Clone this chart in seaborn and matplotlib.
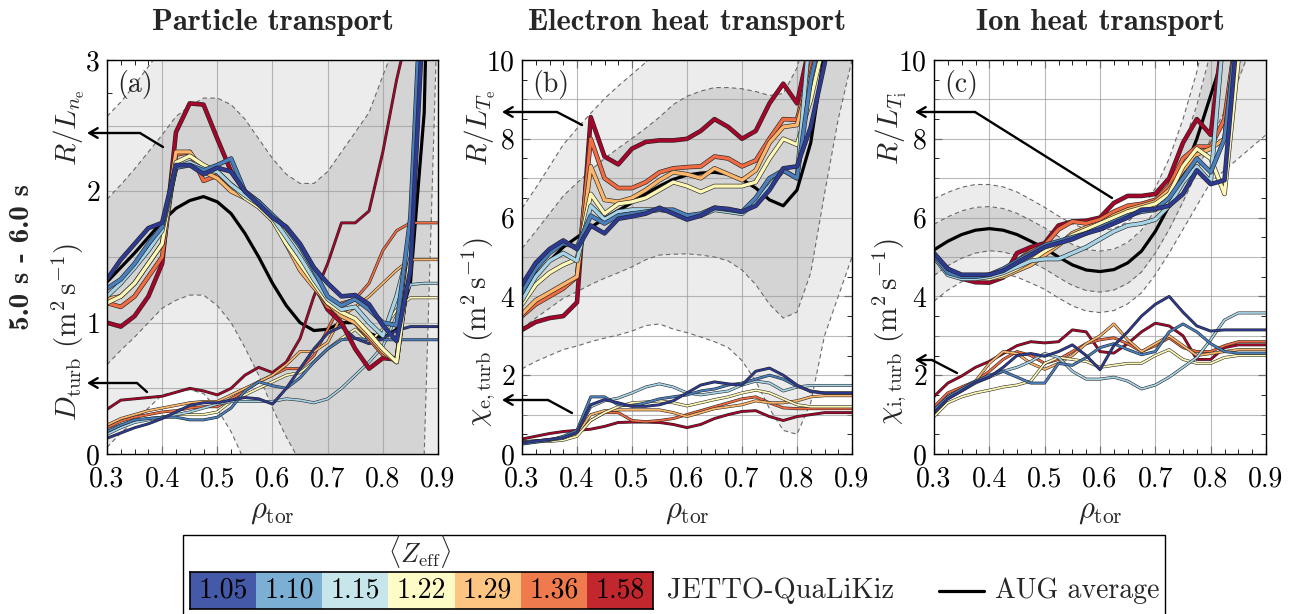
import numpy as np
import matplotlib
matplotlib.use("Agg")
import matplotlib.pyplot as plt
import matplotlib.patheffects as pe
from matplotlib.colors import ListedColormap
from matplotlib.lines import Line2D
from matplotlib.patches import Rectangle, FancyArrowPatch
import seaborn as sns

W, H = 1293, 614

# --- data ---
rho = [0.300, 0.325, 0.350, 0.375, 0.400, 0.425, 0.450, 0.475, 0.500, 0.525, 0.550, 0.575,
       0.600, 0.625, 0.650, 0.675, 0.700, 0.725, 0.750, 0.775, 0.800, 0.825, 0.850, 0.875, 0.900]

zeff_labels = ["1.05", "1.10", "1.15", "1.22", "1.29", "1.36", "1.58"]
line_colors = ["#2d3a92", "#4a7fbd", "#a6d3e6", "#fdf7b6", "#fcb569", "#f06a42", "#a3062a"]
legend_colors = ["#4459a7", "#7bafd4", "#c6e6ec", "#fefcc6", "#fdc581", "#ee7a4d", "#c1272d"]

# panel (a): R/L_ne (thick) and D_turb (thin), one row per <Zeff>
a_grad = [
    [1.33, 1.48, 1.60, 1.72, 1.76, 2.20, 2.20, 2.13, 2.18, 2.15, 2.00, 1.90, 1.80, 1.73, 1.60, 1.42, 1.30, 1.20, 1.21, 1.14, 0.98, 0.86, 1.40, 3.50, 5.00],
    [1.26, 1.33, 1.45, 1.60, 1.73, 2.18, 2.20, 2.16, 2.20, 2.25, 2.00, 1.92, 1.82, 1.72, 1.58, 1.40, 1.20, 1.13, 1.18, 1.10, 1.00, 0.98, 1.80, 4.00, 5.00],
    [1.20, 1.30, 1.42, 1.55, 1.70, 2.18, 2.22, 2.17, 2.15, 2.05, 1.97, 1.90, 1.80, 1.65, 1.50, 1.33, 1.18, 1.10, 1.12, 1.00, 0.90, 1.20, 1.60, 4.00, 5.00],
    [1.15, 1.20, 1.30, 1.45, 1.60, 2.22, 2.27, 2.20, 2.15, 2.05, 1.95, 1.88, 1.78, 1.60, 1.45, 1.30, 1.15, 1.08, 1.03, 0.92, 0.80, 0.70, 1.50, 4.00, 5.00],
    [1.18, 1.20, 1.30, 1.45, 1.60, 2.30, 2.30, 2.15, 2.10, 2.00, 1.95, 1.92, 1.80, 1.60, 1.40, 1.27, 1.15, 1.05, 1.00, 0.90, 0.78, 0.70, 1.50, 4.00, 5.00],
    [1.15, 1.12, 1.20, 1.35, 1.50, 2.28, 2.30, 2.08, 2.12, 2.05, 1.97, 1.90, 1.78, 1.62, 1.45, 1.28, 1.12, 1.08, 1.00, 0.88, 0.76, 0.72, 1.50, 4.00, 5.00],
    [1.00, 0.97, 1.05, 1.20, 1.45, 2.45, 2.67, 2.66, 2.40, 2.15, 2.00, 1.92, 1.80, 1.60, 1.45, 1.30, 1.10, 1.00, 0.80, 0.65, 0.73, 0.72, 1.50, 4.00, 5.00],
]
a_turb = [
    [0.12, 0.16, 0.20, 0.23, 0.27, 0.32, 0.37, 0.39, 0.39, 0.41, 0.43, 0.42, 0.38, 0.50, 0.65, 0.80, 0.92, 0.97, 0.88, 0.84, 0.88, 0.94, 0.97, 0.97, 0.97],
    [0.17, 0.22, 0.26, 0.27, 0.28, 0.28, 0.26, 0.26, 0.28, 0.35, 0.48, 0.55, 0.52, 0.50, 0.58, 0.70, 0.80, 0.87, 0.88, 0.87, 0.87, 0.87, 0.87, 0.87, 0.87],
    [0.15, 0.20, 0.24, 0.26, 0.28, 0.30, 0.32, 0.35, 0.38, 0.40, 0.40, 0.40, 0.40, 0.42, 0.41, 0.39, 0.42, 0.50, 0.60, 0.70, 0.82, 1.05, 1.29, 1.30, 1.30],
    [0.18, 0.22, 0.25, 0.27, 0.28, 0.30, 0.30, 0.30, 0.32, 0.40, 0.45, 0.50, 0.55, 0.60, 0.62, 0.70, 0.80, 0.88, 0.95, 0.85, 0.95, 1.10, 1.19, 1.19, 1.19],
    [0.22, 0.27, 0.30, 0.33, 0.35, 0.37, 0.39, 0.40, 0.40, 0.45, 0.50, 0.55, 0.60, 0.68, 0.78, 0.78, 0.85, 1.05, 1.12, 1.20, 1.30, 1.40, 1.48, 1.48, 1.48],
    [0.20, 0.25, 0.28, 0.30, 0.32, 0.33, 0.35, 0.36, 0.36, 0.42, 0.48, 0.55, 0.60, 0.65, 0.65, 0.75, 0.95, 1.15, 1.18, 1.30, 1.55, 1.70, 1.76, 1.76, 1.76],
    [0.34, 0.41, 0.42, 0.43, 0.44, 0.47, 0.50, 0.48, 0.45, 0.50, 0.60, 0.66, 0.62, 0.70, 0.88, 1.20, 1.45, 1.76, 1.76, 1.85, 2.30, 2.85, 3.30, 4.00, 5.00],
]
a_avg = [1.31, 1.42, 1.53, 1.65, 1.77, 1.87, 1.93, 1.96, 1.92, 1.83, 1.68, 1.50, 1.30, 1.13, 1.00, 0.94, 0.95, 1.00, 1.00, 0.92, 0.88, 0.95, 1.30, 2.60, 7.00]
a_sig = [0.63, 0.63, 0.64, 0.65, 0.66, 0.70, 0.72, 0.75, 0.79, 0.83, 0.87, 0.90, 0.95, 1.00, 1.06, 1.12, 1.20, 1.30, 1.45, 1.68, 2.00, 2.20, 2.30, 2.60, 3.50]

# panel (b): R/L_Te and chi_e,turb
b_grad = [
    [4.30, 4.85, 5.20, 5.42, 5.20, 5.80, 5.60, 5.97, 6.03, 6.10, 6.25, 6.10, 5.95, 6.05, 6.25, 6.22, 6.15, 6.30, 6.70, 7.25, 7.30, 8.30, 9.90, 12.0, 15.0],
    [4.10, 4.70, 5.10, 5.35, 5.25, 6.05, 5.85, 6.05, 6.10, 6.15, 6.20, 6.20, 6.05, 6.10, 6.25, 6.20, 6.15, 6.50, 7.00, 7.20, 7.00, 9.50, 11.0, 13.0, 15.0],
    [3.90, 4.50, 4.90, 5.10, 4.90, 6.30, 5.95, 6.15, 6.20, 6.20, 6.20, 6.15, 6.05, 6.05, 6.20, 6.15, 6.10, 6.40, 6.80, 7.20, 7.00, 11.0, 12.0, 14.0, 15.0],
    [3.80, 4.30, 4.60, 4.80, 4.95, 6.60, 6.10, 6.35, 6.40, 6.50, 6.70, 6.90, 6.80, 6.65, 6.80, 6.80, 6.80, 6.90, 7.50, 8.00, 7.85, 9.00, 10.5, 12.0, 15.0],
    [3.55, 3.90, 4.10, 4.30, 4.50, 7.30, 6.45, 6.40, 6.50, 6.70, 6.95, 7.15, 7.10, 7.00, 7.25, 7.10, 6.95, 7.20, 7.90, 8.30, 8.35, 9.60, 11.0, 13.0, 15.0],
    [3.50, 3.80, 4.00, 4.20, 4.50, 8.00, 7.00, 6.75, 6.75, 6.90, 7.15, 7.25, 7.28, 7.30, 7.55, 7.50, 7.30, 7.45, 8.00, 8.50, 8.48, 9.80, 11.5, 13.0, 15.0],
    [3.15, 3.35, 3.45, 3.50, 3.85, 8.55, 7.55, 7.35, 7.75, 7.92, 7.96, 7.96, 8.00, 8.20, 8.50, 8.30, 8.00, 8.20, 8.90, 9.40, 8.90, 10.5, 12.0, 14.0, 15.0],
]
b_turb = [
    [0.28, 0.33, 0.37, 0.41, 0.55, 1.25, 1.38, 1.30, 1.21, 1.21, 1.25, 1.35, 1.55, 1.75, 1.83, 1.78, 1.75, 2.10, 2.18, 2.00, 1.75, 1.58, 1.55, 1.55, 1.55],
    [0.25, 0.30, 0.35, 0.45, 0.60, 1.45, 1.45, 1.25, 1.22, 1.30, 1.40, 1.45, 1.50, 1.60, 1.65, 1.75, 1.80, 1.90, 2.00, 1.90, 1.72, 1.60, 1.55, 1.55, 1.55],
    [0.30, 0.33, 0.35, 0.40, 0.55, 1.20, 1.35, 1.42, 1.55, 1.70, 1.78, 1.70, 1.55, 1.50, 1.55, 1.60, 1.75, 1.85, 1.80, 1.60, 1.70, 1.74, 1.74, 1.74, 1.74],
    [0.30, 0.31, 0.32, 0.35, 0.45, 0.85, 1.05, 1.20, 1.30, 1.32, 1.35, 1.30, 1.22, 1.30, 1.38, 1.45, 1.55, 1.62, 1.55, 1.40, 1.25, 1.20, 1.20, 1.20, 1.20],
    [0.32, 0.33, 0.36, 0.40, 0.50, 1.00, 1.10, 1.12, 1.12, 1.12, 1.12, 1.05, 0.95, 1.05, 1.15, 1.20, 1.25, 1.35, 1.30, 1.30, 1.35, 1.45, 1.48, 1.48, 1.48],
    [0.30, 0.33, 0.37, 0.42, 0.55, 0.85, 1.05, 1.05, 0.85, 0.82, 0.85, 0.90, 1.00, 1.10, 1.20, 1.30, 1.40, 1.45, 1.30, 1.17, 1.15, 1.15, 1.15, 1.15, 1.15],
    [0.38, 0.45, 0.52, 0.57, 0.60, 0.63, 0.70, 0.80, 0.81, 0.81, 0.80, 0.75, 0.67, 0.75, 0.90, 1.00, 1.08, 1.10, 0.95, 0.85, 0.95, 1.00, 1.05, 1.05, 1.05],
]
b_avg = [4.20, 4.55, 4.90, 5.25, 5.50, 5.75, 5.98, 6.18, 6.38, 6.60, 6.80, 6.97, 7.08, 7.13, 7.15, 7.10, 6.97, 6.75, 6.45, 6.30, 6.70, 7.90, 10.2, 13.0, 15.0]
b_sig = [1.02, 1.10, 1.20, 1.30, 1.38, 1.45, 1.52, 1.58, 1.63, 1.67, 1.75, 1.90, 2.00, 2.08, 2.15, 2.20, 2.30, 2.45, 2.65, 2.85, 3.10, 3.30, 3.60, 4.50, 5.00]

# panel (c): R/L_Ti and chi_i,turb
c_grad = [
    [5.10, 4.70, 4.55, 4.55, 4.55, 4.65, 4.85, 5.05, 5.25, 5.35, 5.45, 5.60, 5.70, 5.85, 6.00, 6.20, 6.22, 6.30, 6.60, 7.20, 6.85, 6.95, 11.0, 14.0, 15.0],
    [5.05, 4.60, 4.50, 4.50, 4.55, 4.70, 4.90, 5.10, 5.30, 5.40, 5.50, 5.60, 5.75, 5.90, 6.05, 6.15, 6.20, 6.50, 7.00, 7.50, 7.15, 8.00, 11.0, 14.0, 15.0],
    [5.00, 4.55, 4.45, 4.45, 4.50, 4.60, 4.75, 4.90, 4.95, 4.95, 5.10, 5.25, 5.45, 5.65, 5.80, 5.85, 5.95, 6.30, 6.90, 7.30, 6.90, 11.0, 13.0, 15.0, 15.0],
    [5.00, 4.60, 4.50, 4.45, 4.45, 4.55, 4.70, 4.90, 5.15, 5.35, 5.55, 5.70, 5.85, 6.00, 6.15, 6.25, 6.35, 6.60, 7.30, 7.75, 7.50, 6.60, 10.0, 13.0, 15.0],
    [5.00, 4.60, 4.50, 4.45, 4.45, 4.50, 4.65, 4.80, 5.05, 5.30, 5.60, 5.75, 5.85, 6.05, 6.20, 6.30, 6.40, 6.70, 7.20, 7.60, 7.75, 8.00, 11.0, 14.0, 15.0],
    [5.05, 4.60, 4.50, 4.45, 4.45, 4.60, 4.90, 5.15, 5.30, 5.70, 5.90, 5.85, 5.95, 6.15, 6.30, 6.35, 6.45, 6.80, 7.50, 7.80, 7.80, 8.50, 11.0, 14.0, 15.0],
    [5.05, 4.70, 4.45, 4.36, 4.35, 4.48, 5.10, 5.25, 5.35, 5.80, 5.90, 5.92, 6.00, 6.37, 6.55, 6.55, 6.60, 7.00, 7.90, 8.50, 8.10, 11.0, 13.0, 14.0, 15.0],
]
c_turb = [
    [1.04, 1.40, 1.60, 1.82, 1.95, 2.20, 2.50, 2.55, 2.48, 2.60, 2.77, 2.50, 2.14, 2.75, 3.10, 3.50, 3.80, 4.00, 3.60, 3.25, 3.12, 3.15, 3.15, 3.15, 3.15],
    [1.12, 1.45, 1.65, 1.85, 2.00, 2.10, 1.95, 1.80, 1.80, 2.30, 2.25, 2.45, 2.70, 2.80, 2.65, 2.52, 2.60, 3.10, 3.30, 3.10, 2.80, 2.60, 2.56, 2.56, 2.56],
    [1.08, 1.40, 1.60, 1.80, 1.95, 2.10, 2.20, 2.35, 2.55, 2.45, 2.10, 1.90, 1.90, 1.95, 1.85, 1.65, 1.75, 1.95, 2.20, 2.45, 2.90, 3.40, 3.58, 3.58, 3.58],
    [0.95, 1.30, 1.45, 1.55, 1.62, 1.70, 1.75, 1.85, 2.30, 2.45, 2.40, 2.35, 2.20, 2.25, 2.30, 2.30, 2.50, 2.65, 2.40, 2.30, 2.30, 2.45, 2.50, 2.50, 2.50],
    [1.05, 1.45, 1.65, 1.85, 2.30, 2.60, 2.55, 2.30, 2.15, 2.30, 2.50, 2.80, 3.00, 3.30, 2.90, 2.60, 2.80, 3.00, 2.75, 2.50, 2.55, 2.60, 2.65, 2.65, 2.65],
    [1.20, 1.55, 1.70, 1.85, 2.10, 2.40, 2.60, 2.50, 2.30, 2.40, 2.60, 2.80, 2.90, 2.95, 2.80, 2.60, 2.75, 2.95, 2.70, 2.60, 2.60, 2.75, 2.85, 2.85, 2.85],
    [1.46, 1.80, 1.98, 2.20, 2.35, 2.55, 2.75, 2.85, 2.82, 2.85, 3.15, 3.10, 2.60, 2.56, 2.80, 3.10, 3.32, 3.25, 3.00, 2.40, 2.40, 2.70, 2.77, 2.77, 2.77],
]
c_avg = [5.18, 5.40, 5.57, 5.68, 5.72, 5.68, 5.57, 5.40, 5.22, 5.00, 4.80, 4.67, 4.63, 4.68, 4.85, 5.15, 5.65, 6.30, 7.10, 8.00, 9.10, 10.2, 11.5, 13.0, 14.5]
c_sig = [0.65, 0.62, 0.60, 0.58, 0.56, 0.55, 0.54, 0.53, 0.52, 0.52, 0.52, 0.52, 0.52, 0.52, 0.52, 0.53, 0.55, 0.60, 0.70, 0.85, 1.10, 1.50, 2.00, 2.60, 3.20]

titles = ["Particle transport", "Electron heat transport", "Ion heat transport"]
grad_labels = [r"$R/L_{n_{\rm e}}$", r"$R/L_{T_{\rm e}}$", r"$R/L_{T_{\rm i}}$"]
turb_labels = [r"$D_{\rm turb}\ ({\rm m^2\,s^{-1}})$",
               r"$\chi_{\rm e,turb}\ ({\rm m^2\,s^{-1}})$",
               r"$\chi_{\rm i,turb}\ ({\rm m^2\,s^{-1}})$"]
panel_tags = ["(a)", "(b)", "(c)"]

sns.set_style("ticks")
plt.rcParams["font.family"] = ["cmr10", "DejaVu Serif"]
plt.rcParams["mathtext.fontset"] = "cm"
plt.rcParams["axes.formatter.use_mathtext"] = True
plt.rcParams["axes.unicode_minus"] = False

fig = plt.figure(figsize=(W / 100, H / 100), dpi=100)


def fp(x, y):
    # pixel position (from top-left) -> figure fraction
    return (x / W, 1 - y / H)


def draw_panel(ax, grad, turb, avg, sig, ymax, ymajor, ygrid):
    r = np.array(rho)
    m = np.array(avg)
    s = np.array(sig)
    ax.fill_between(r, m - 2 * s, m + 2 * s, color="#ececec", lw=0, zorder=1)
    ax.fill_between(r, m - s, m + s, color="#d4d4d4", lw=0, zorder=1.1)
    for k in (-2, -1, 1, 2):
        ax.plot(r, m + k * s, color="#6a6a6a", lw=0.8, ls=(0, (4, 3)), zorder=2.6)
    # grid drawn above the bands, below the lines
    for gx in np.arange(0.4, 0.9, 0.1):
        ax.axvline(gx, color="#9c9c9c", lw=0.8, alpha=0.7, zorder=2.5)
    for gy in np.arange(ygrid, ymax, ygrid):
        ax.axhline(gy, color="#9c9c9c", lw=0.8, alpha=0.7, zorder=2.5)

    sns.lineplot(x=r, y=m, color="black", lw=2.3, ax=ax, zorder=3, estimator=None, sort=False)

    for i in range(len(grad) - 1, -1, -1):
        sns.lineplot(x=r, y=np.array(turb[i]), color=line_colors[i], lw=1.3, ax=ax,
                     zorder=4, estimator=None, sort=False)
        ax.lines[-1].set_path_effects([pe.Stroke(linewidth=2.1, foreground="#262626"), pe.Normal()])
    for i in range(len(grad) - 1, -1, -1):
        sns.lineplot(x=r, y=np.array(grad[i]), color=line_colors[i], lw=2.4, ax=ax,
                     zorder=5, estimator=None, sort=False)
        ax.lines[-1].set_path_effects([pe.Stroke(linewidth=3.3, foreground="#262626"), pe.Normal()])

    ax.set_xlim(0.3, 0.9)
    ax.set_ylim(0, ymax)
    ax.set_xticks([0.3, 0.4, 0.5, 0.6, 0.7, 0.8, 0.9])
    ax.set_xticklabels(["0.3", "0.4", "0.5", "0.6", "0.7", "0.8", "0.9"])
    ax.set_xticks(np.arange(0.3, 0.9001, 0.025), minor=True)
    ax.set_yticks(np.arange(0, ymax + 0.01, ymajor))
    ax.set_yticks(np.arange(0, ymax + 0.01, ymajor / 4), minor=True)
    ax.tick_params(which="both", direction="in", top=True, right=True, labelsize=20,
                   colors="black", zorder=6)
    ax.tick_params(axis="x", which="major", pad=9)
    ax.tick_params(axis="y", which="major", pad=5)
    ax.tick_params(which="major", length=6, width=0.8)
    ax.tick_params(which="minor", length=3.5, width=0.6)
    for sp in ax.spines.values():
        sp.set_linewidth(1.0)
        sp.set_color("black")
        sp.set_zorder(7)
    ax.set_xlabel(r"$\rho_{\rm tor}$", fontsize=22, labelpad=4)
    ax.set_ylabel("")


lefts = [107, 522, 934]
widths = [331, 330, 332]
grads = [a_grad, b_grad, c_grad]
turbs = [a_turb, b_turb, c_turb]
avgs = [a_avg, b_avg, c_avg]
sigs = [a_sig, b_sig, c_sig]
ymaxes = [3, 10, 10]
ymajors = [1, 2, 2]
ygrids = [0.5, 1, 1]
axes = []
for p in range(3):
    ax = fig.add_axes([lefts[p] / W, 1 - 454 / H, widths[p] / W, 394 / H])
    draw_panel(ax, grads[p], turbs[p], avgs[p], sigs[p], ymaxes[p], ymajors[p], ygrids[p])
    ax.text(0.03, 0.975, panel_tags[p], transform=ax.transAxes, ha="left", va="top",
            fontsize=20, zorder=8)
    cx = (lefts[p] + widths[p] / 2) / W
    fig.text(cx, fp(0, 22)[1], titles[p], fontfamily="cmb10",
             ha="center", va="center", fontsize=22)
    axes.append(ax)

# rotated axis labels
lab_x = [69, 480, 891]
for p in range(3):
    fig.text(*fp(lab_x[p], 128), grad_labels[p], rotation=90, ha="center", va="center", fontsize=21)
    fig.text(*fp(lab_x[p] - 1, 332), turb_labels[p], rotation=90, ha="center", va="center", fontsize=21)

fig.text(*fp(22, 257), "5.0 s - 6.0 s", fontfamily="cmb10", rotation=90,
         ha="center", va="center", fontsize=21)

# arrows from the curves to their labels
arrows = [
    [(87, 133), (140, 133), (163, 147)],
    [(87, 383), (137, 383), (147, 392)],
    [(502, 112), (557, 112), (582, 125)],
    [(502, 400), (548, 400), (572, 413)],
    [(915, 112), (975, 112), (1112, 198)],
    [(915, 360), (932, 360), (957, 373)],
]
for head, corner, tail in arrows:
    fig.add_artist(Line2D([fp(*corner)[0], fp(*tail)[0]], [fp(*corner)[1], fp(*tail)[1]],
                          transform=fig.transFigure, color="black", lw=1.7, zorder=9))
    fig.add_artist(FancyArrowPatch(fp(*corner), fp(*head), transform=fig.transFigure,
                                   arrowstyle="->,head_length=6,head_width=3.5",
                                   color="black", lw=1.7, shrinkA=0, shrinkB=0, zorder=9))

# legend box
fig.add_artist(Rectangle(fp(183, 618), (1165 - 183) / W, (618 - 535) / H,
                         transform=fig.transFigure, fill=False, ec="black", lw=1.0))
cax = fig.add_axes([190 / W, 1 - 609 / H, 463 / W, 37 / H])
sns.heatmap(np.arange(7).reshape(1, 7), cmap=ListedColormap(legend_colors), vmin=-0.5, vmax=6.5,
            annot=np.array([zeff_labels]), fmt="", cbar=False, xticklabels=False,
            yticklabels=False, ax=cax, annot_kws=dict(fontsize=20, color="black"))
for sp in cax.spines.values():
    sp.set_visible(True)
    sp.set_linewidth(1.2)
    sp.set_color("black")
fig.text(*fp(420, 551), r"$\langle Z_{\rm eff}\rangle$", ha="center", va="center", fontsize=19)
fig.text(*fp(667, 591), "JETTO-QuaLiKiz", ha="left", va="center", fontsize=20.5)
fig.add_artist(Line2D([fp(939, 0)[0], fp(984, 0)[0]], [fp(0, 591)[1]] * 2,
                      transform=fig.transFigure, color="black", lw=2.3))
fig.text(*fp(995, 591), "AUG average", ha="left", va="center", fontsize=20)

fig.savefig("out.png", dpi=100)
